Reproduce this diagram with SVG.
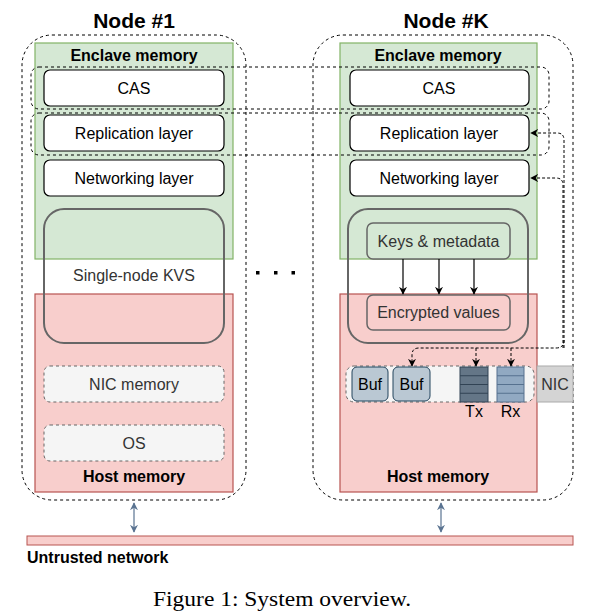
<svg xmlns="http://www.w3.org/2000/svg" width="593" height="612" viewBox="0 0 593 612">
<defs>
<style>
.t{font-family:"Liberation Sans",Arial,sans-serif;font-size:16px;text-anchor:middle;fill:#000}
.g{fill:#333}
.b{font-weight:bold;font-size:16px}
.outer{fill:none;stroke:#000;stroke-width:1;stroke-dasharray:3 3}
.band{fill:none;stroke:#000;stroke-width:1;stroke-dasharray:3 3}
.enc{fill:#d5e8d4;stroke:#82b366;stroke-width:1.2}
.host{fill:#f8cecc;stroke:#b85450;stroke-width:1.2}
.box{fill:#fff;stroke:#000;stroke-width:1.2}
.dbox{fill:#f5f5f5;stroke:#666;stroke-width:1;stroke-dasharray:3 3}
.kvs{fill:none;stroke:#666;stroke-width:2}
.conn{fill:none;stroke:#000;stroke-width:1;stroke-dasharray:3 2}
.solid{fill:none;stroke:#000;stroke-width:1.2}
.bi{fill:none;stroke:#5a7391;stroke-width:1.2}
</style>
<marker id="ah" viewBox="0 0 10 10" refX="9" refY="5" markerWidth="8" markerHeight="8" orient="auto" markerUnits="userSpaceOnUse">
<path d="M0,0 L10,5 L0,10 L3,5 Z" fill="#000"/>
</marker>
<marker id="ah2" viewBox="0 0 10 10" refX="9" refY="5" markerWidth="8" markerHeight="8" orient="auto-start-reverse" markerUnits="userSpaceOnUse">
<path d="M0,0 L10,5 L0,10 L3,5 Z" fill="#5a7391"/>
</marker>
</defs>
<rect width="593" height="612" fill="#fff"/>

<g id="node1">
<text class="t" x="134" y="28" style="font-weight:bold;font-size:21px">Node #1</text>
<rect class="outer" x="22" y="35" width="224" height="465" rx="30"/>
<rect class="enc" x="35" y="43" width="198" height="216"/>
<text class="t b" x="134" y="61">Enclave memory</text>
<rect class="host" x="35" y="294" width="198" height="198"/>
<text class="t b" x="134" y="482">Host memory</text>
</g>
<g id="n1-cas"><rect class="box" x="44" y="70" width="180" height="36" rx="6"/><text class="t" x="134" y="94">CAS</text></g>
<g id="n1-rep"><rect class="box" x="44" y="115" width="180" height="36" rx="6"/><text class="t" x="134" y="139">Replication layer</text></g>
<g id="n1-net"><rect class="box" x="44" y="160" width="180" height="36" rx="6"/><text class="t" x="134" y="184">Networking layer</text></g>
<g id="n1-kvs"><rect class="kvs" x="44" y="209" width="180" height="134" rx="20"/><text class="t g" x="134" y="281">Single-node KVS</text></g>
<g id="n1-nicmem"><rect class="dbox" x="44" y="366" width="180" height="36" rx="6"/><text class="t g" x="134" y="390">NIC memory</text></g>
<g id="n1-os"><rect class="dbox" x="44" y="425" width="180" height="36" rx="6"/><text class="t g" x="134" y="449">OS</text></g>

<g id="dots">
<rect x="256" y="271" width="3.5" height="3.5" fill="#000"/>
<rect x="274" y="271" width="3.5" height="3.5" fill="#000"/>
<rect x="291.5" y="271" width="3.5" height="3.5" fill="#000"/>
</g>

<g id="nodeK">
<text class="t" x="446" y="28" style="font-weight:bold;font-size:21px">Node #K</text>
<rect class="outer" x="313" y="35" width="260" height="465" rx="30"/>
<rect class="enc" x="340" y="43" width="197" height="216"/>
<text class="t b" x="438" y="61">Enclave memory</text>
<rect class="host" x="340" y="294" width="197" height="198"/>
<text class="t b" x="438" y="482">Host memory</text>
</g>
<g id="nk-cas"><rect class="box" x="350" y="70" width="179" height="36" rx="6"/><text class="t" x="439" y="94">CAS</text></g>
<g id="nk-rep"><rect class="box" x="350" y="115" width="179" height="36" rx="6"/><text class="t" x="439" y="139">Replication layer</text></g>
<g id="nk-net"><rect class="box" x="350" y="160" width="179" height="36" rx="6"/><text class="t" x="439" y="184">Networking layer</text></g>
<g id="nk-kvs"><rect class="kvs" x="348" y="209" width="180" height="134" rx="20"/></g>
<g id="nk-keys"><rect x="367" y="223" width="143" height="36" rx="6" fill="#d5e8d4" stroke="#666" stroke-width="1.5"/><text class="t g" x="438.5" y="247">Keys &amp; metadata</text></g>
<g id="nk-enc"><rect x="367" y="295" width="143" height="35" rx="6" fill="#f8cecc" stroke="#666" stroke-width="1.5"/><text class="t g" x="438.5" y="318">Encrypted values</text></g>
<g id="nk-nicmem"><rect class="dbox" x="346" y="366" width="188" height="36" rx="8"/></g>
<g id="nk-buf1"><rect x="352" y="367" width="36" height="34" rx="5" fill="#bac8d3" stroke="#23445d" stroke-width="1"/><text class="t" x="370" y="390">Buf</text></g>
<g id="nk-buf2"><rect x="393" y="367" width="37" height="34" rx="5" fill="#bac8d3" stroke="#23445d" stroke-width="1"/><text class="t" x="411.5" y="390">Buf</text></g>
<g id="nk-tx">
<rect x="460" y="367" width="28" height="35" fill="#647687" stroke="#314354" stroke-width="1"/>
<path d="M460 375.75H488M460 384.5H488M460 393.25H488" stroke="#314354" stroke-width="1"/>
<text class="t" x="474" y="417">Tx</text>
</g>
<g id="nk-rx">
<rect x="497" y="367" width="27" height="35" fill="#91a9c2" stroke="#56718f" stroke-width="1"/>
<path d="M497 375.75H524M497 384.5H524M497 393.25H524" stroke="#56718f" stroke-width="1"/>
<text class="t" x="510.5" y="417">Rx</text>
</g>
<g id="nk-nic"><rect x="537" y="366" width="36" height="36" fill="#d4d4d4" stroke="#aaa" stroke-width="1"/><text class="t g" x="555" y="390">NIC</text></g>

<g id="network"><rect x="27" y="536" width="546" height="9" fill="#f8cecc" stroke="#b85450" stroke-width="1"/><text class="t b" x="27" y="563" style="text-anchor:start">Untrusted network</text></g>

<g id="bands">
<rect class="band" x="31" y="67" width="518" height="42" rx="8"/>
<rect class="band" x="31" y="113" width="518" height="42" rx="8"/>
</g>

<g id="connectors">
<path class="conn" d="M564 348V140Q564 133 557 133H531" marker-end="url(#ah)"/>
<path class="conn" d="M563 348V185Q563 178 556 178H531" marker-end="url(#ah)"/>
<path class="conn" d="M564 340Q564 348 556 348H419Q412 348 412 355V366" marker-end="url(#ah)"/>
<path class="conn" d="M476 348V366" marker-end="url(#ah)"/>
<path class="conn" d="M511 348V366" marker-end="url(#ah)"/>
<path class="solid" d="M403 259V294" marker-end="url(#ah)"/>
<path class="solid" d="M439 259V294" marker-end="url(#ah)"/>
<path class="solid" d="M474 259V294" marker-end="url(#ah)"/>
<path class="bi" d="M134 503V532" marker-start="url(#ah2)" marker-end="url(#ah2)"/>
<path class="bi" d="M441 503V532" marker-start="url(#ah2)" marker-end="url(#ah2)"/>
</g>

<text x="282" y="606" textLength="258" lengthAdjust="spacingAndGlyphs" style="font-family:'Liberation Serif','Times New Roman',serif;font-size:22px;text-anchor:middle">Figure 1: System overview.</text>
</svg>
